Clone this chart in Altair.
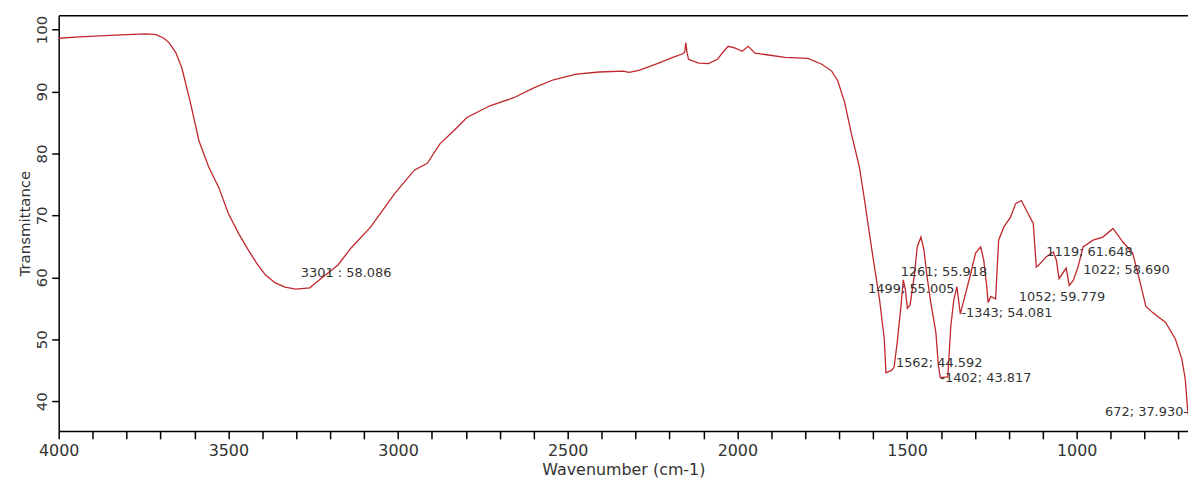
import altair as alt
import pandas as pd

# ---- data ----
wavenumber = [
    4000, 3950, 3880, 3800, 3742, 3713, 3690, 3675, 3655, 3637, 3611, 3587, 3558, 3529,
    3500, 3470, 3441, 3417, 3391, 3362, 3333, 3301, 3260, 3236, 3177, 3139, 3081, 3010,
    2952, 2914, 2876, 2835, 2797, 2729, 2659, 2600, 2542, 2475, 2407, 2337, 2319, 2290,
    2232, 2190, 2161, 2155, 2152, 2148, 2144, 2114, 2085, 2059, 2040, 2027, 2006, 1986,
    1968, 1948, 1909, 1860, 1792, 1751, 1722, 1704, 1684, 1664, 1640, 1625, 1611, 1596,
    1581, 1567, 1562, 1545, 1538, 1529, 1518, 1511, 1505, 1499, 1491, 1479, 1470, 1459,
    1450, 1441, 1430, 1415, 1408, 1402, 1380, 1371, 1362, 1353, 1343, 1327, 1312, 1298,
    1283, 1274, 1265, 1261, 1253, 1239, 1230, 1215, 1195, 1180, 1163, 1148, 1128, 1119,
    1113, 1090, 1069, 1060, 1052, 1031, 1022, 1010, 996, 981, 952, 923, 893, 864, 835,
    815, 796, 776, 738, 709, 690, 680, 672,
]
transmittance = [
    98.6, 98.8, 99.0, 99.2, 99.3, 99.2, 98.6, 97.9, 96.3, 93.8, 88.0, 82.1, 77.8, 74.6,
    70.3, 67.1, 64.4, 62.3, 60.4, 59.1, 58.4, 58.086, 58.3, 59.4, 62.0, 64.7, 68.1, 73.5,
    77.3, 78.4, 81.6, 83.7, 85.8, 87.7, 89.0, 90.6, 91.9, 92.8, 93.15, 93.3, 93.1, 93.4,
    94.6, 95.5, 96.1, 96.4, 97.9, 96.2, 95.2, 94.6, 94.5, 95.2, 96.5, 97.3, 97.0, 96.5,
    97.3, 96.2, 95.9, 95.5, 95.35, 94.4, 93.3, 91.7, 88.3, 83.2, 77.7, 72.4, 67.1, 61.7,
    56.4, 50.0, 44.592, 45.0, 45.5, 49.5, 55.3, 59.6, 58.0, 55.005, 55.5, 60.1, 64.9, 66.5,
    64.4, 60.1, 55.9, 51.1, 46.0, 43.817, 43.9, 52.1, 56.4, 58.5, 54.081, 57.5, 60.7, 63.9,
    64.9, 62.8, 58.5, 55.918, 56.9, 56.5, 66.0, 68.1, 69.7, 71.9, 72.4, 70.8, 68.7, 61.648,
    61.9, 63.3, 64.1, 62.8, 59.779, 61.5, 58.690, 59.5, 61.7, 64.9, 66.0, 66.5, 67.9, 65.7, 63.9,
    59.6, 55.3, 54.3, 52.7, 50.0, 46.8, 43.5, 37.930,
]

ann_wn = [3301, 1562, 1499, 1402, 1343, 1261, 1119, 1052, 1022, 672]
ann_T = [58.086, 44.592, 55.005, 43.817, 54.081, 55.918, 61.648, 59.779, 58.690, 37.930]
ann_text = ["3301 : 58.086", "1562; 44.592", "1499; 55.005", "-1402; 43.817",
            "-1343; 54.081", "1261; 55.918", "1119; 61.648", "1052; 59.779",
            "1022; 58.690", "672; 37.930-"]

x_ticks = list(range(4000, 699, -100))
y_ticks = list(range(40, 101, 5))

# ---- styles (label placement relative to its peak) ----
ann_style = [
    ("left", 5, -16), ("left", 10, -10), ("center", 4, -19), ("left", 0, 0),
    ("left", 1, -1), ("right", -1, -31), ("left", 10, -15), ("center", 3, 18),
    ("left", 14, -15), ("right", 0, -2),
]

FONT = "DejaVu Sans"
W, H = 1136, 418

spec = pd.DataFrame({"wn": wavenumber, "T": transmittance})

xscale = alt.Scale(domain=[4000, 672], nice=False, zero=False)
yscale = alt.Scale(domain=[35.2, 102.3], nice=False, zero=False)

xaxis = alt.Axis(
    values=x_ticks,
    labelExpr="datum.value % 500 == 0 ? format(datum.value, 'd') : ''",
    title="Wavenumber (cm-1)",
    titleFont=FONT, titleFontSize=16, titleFontWeight="normal", titleColor="#333",
    titleX=568, titleY=39, titleAnchor="middle", titleBaseline="middle",
    labelFont=FONT, labelFontSize=16, labelColor="#333", labelPadding=4,
    labelFlush=False, labelOverlap=False,
    tickSize=8, tickColor="black", tickWidth=1.5,
    domainColor="black", domainWidth=1.5, grid=False,
)
yaxis = alt.Axis(
    values=y_ticks,
    labelExpr="datum.value % 10 == 0 ? format(datum.value, 'd') : ''",
    title="Transmittance",
    titleFont=FONT, titleFontSize=15, titleFontWeight="normal", titleColor="#333",
    titleX=-34, titleY=209, titleAngle=270, titleAlign="center", titleBaseline="middle",
    labelFont=FONT, labelFontSize=15, labelColor="#333", labelAngle=270,
    labelAlign="center", labelBaseline="bottom", labelPadding=2,
    labelFlush=False, labelOverlap=False,
    tickSize=7, tickColor="black", tickWidth=1.5,
    domainColor="black", domainWidth=1.5, grid=False,
)

line = alt.Chart(spec).mark_line(color="#c0272d", strokeWidth=1.3).encode(
    x=alt.X("wn:Q", scale=xscale, axis=xaxis),
    y=alt.Y("T:Q", scale=yscale, axis=yaxis),
)

# top frame line drawn as a bare top axis on the same scale
top = alt.Chart(spec).mark_line(opacity=0).encode(
    x=alt.X("wn:Q", scale=xscale,
            axis=alt.Axis(orient="top", labels=False, ticks=False, title=None,
                          domainColor="black", domainWidth=1.5, grid=False)),
    y=alt.Y("T:Q", scale=yscale),
)

ann = pd.DataFrame({"wn": ann_wn, "T": ann_T, "label": ann_text})
labels = []
for i, (align, dx, dy) in enumerate(ann_style):
    labels.append(
        alt.Chart(ann.iloc[[i]]).mark_text(
            align=align, baseline="middle", dx=dx, dy=dy,
            font=FONT, fontSize=13, color="#333",
        ).encode(
            x=alt.X("wn:Q", scale=xscale, axis=None),
            y=alt.Y("T:Q", scale=yscale),
            text="label:N",
        )
    )

chart = alt.layer(line, top, *labels).resolve_axis(x="independent").properties(
    width=W, height=H,
    autosize=alt.AutoSizeParams(type="none"),
    padding={"left": 51, "top": 6, "right": 0, "bottom": 47},
).configure_view(strokeWidth=0)

chart.save("out.html", embed_options={"renderer": "svg", "actions": False})
